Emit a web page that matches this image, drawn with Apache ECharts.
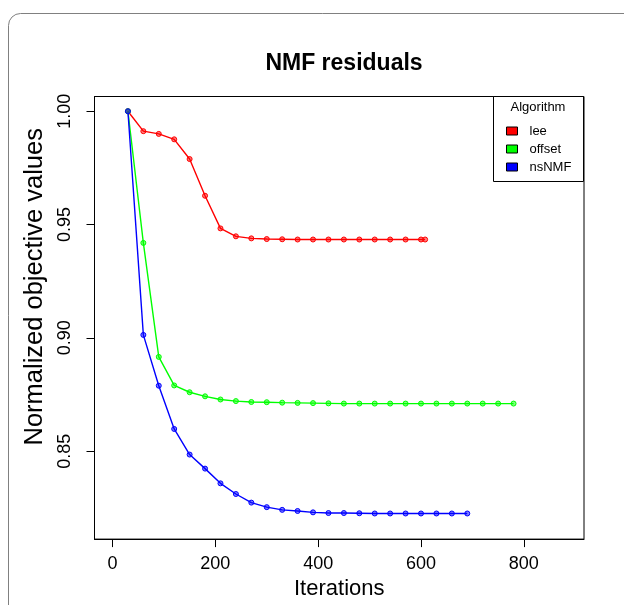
<!DOCTYPE html>
<html><head><meta charset="utf-8">
<script src="https://cdn.jsdelivr.net/npm/echarts@6/dist/echarts.min.js"></script>
<style>html,body{margin:0;padding:0;background:#fff}#c{width:624px;height:605px}</style>
</head><body><div id="c"></div>
<script>
const seriesNames = ['lee', 'offset', 'nsNMF'];
const seriesColors = ['#FF0000', '#00FF00', '#0000FF'];
const leeIter = [30,60,90,120,150,180,210,240,270,300,330,360,390,420,450,480,510,540,570,600,608];
const leeVal = [1.000,0.9912,0.9900,0.9876,0.9789,0.9627,0.9483,0.9448,0.9439,0.9436,0.9435,0.9434,0.9434,0.9434,0.9434,0.9434,0.9434,0.9434,0.9434,0.9434,0.9434];
const offsetIter = [30,60,90,120,150,180,210,240,270,300,330,360,390,420,450,480,510,540,570,600,630,660,690,720,750,780];
const offsetVal = [1.000,0.9419,0.8916,0.8790,0.8760,0.8742,0.8728,0.8721,0.8717,0.8716,0.8714,0.8713,0.8712,0.8711,0.8710,0.8710,0.8710,0.8710,0.8710,0.8710,0.8710,0.8710,0.8710,0.8710,0.8710,0.8710];
const nsIter = [30,60,90,120,150,180,210,240,270,300,330,360,390,420,450,480,510,540,570,600,630,660,690];
const nsVal = [1.000,0.9013,0.8789,0.8598,0.8485,0.8423,0.8358,0.8311,0.8273,0.8253,0.8241,0.8236,0.8230,0.8227,0.8227,0.8226,0.8225,0.8225,0.8225,0.8225,0.8225,0.8225,0.8225];
const xTicks = [0, 200, 400, 600, 800];
const yTicks = [0.85, 0.90, 0.95, 1.00];
const titleText = 'NMF residuals';
const xName = 'Iterations';
const yName = 'Normalized objective values';
const legendTitle = 'Algorithm';

const FONT = 'Liberation Sans, Arial, Helvetica, sans-serif';
const zip = (a, b) => a.map((v, i) => [v, b[i]]);
const allData = [zip(leeIter, leeVal), zip(offsetIter, offsetVal), zip(nsIter, nsVal)];

const chart = echarts.init(document.getElementById('c'), null, {renderer: 'canvas'});
chart.setOption({
  animation: false,
  backgroundColor: '#fff',
  textStyle: {fontFamily: FONT},
  title: {
    text: titleText, left: 339, top: 47, textAlign: 'center',
    textStyle: {fontFamily: FONT, fontSize: 23, fontWeight: 'bold', color: '#000'}
  },
  grid: {left: 94.5, right: 40, top: 96.5, bottom: 62.5, show: true, borderColor: '#000', borderWidth: 1, backgroundColor: 'transparent'},
  xAxis: {
    type: 'value', min: -35, max: 917,
    name: xName, nameLocation: 'middle', nameGap: 37,
    nameTextStyle: {fontFamily: FONT, fontSize: 22, color: '#000'},
    axisLine: {show: true, onZero: false, lineStyle: {color: '#000', width: 1}},
    axisTick: {show: true, length: 8, lineStyle: {color: '#000'}, customValues: xTicks},
    axisLabel: {fontFamily: FONT, fontSize: 18, color: '#000', margin: 16, customValues: xTicks},
    splitLine: {show: false}
  },
  yAxis: {
    type: 'value', min: 0.8112, max: 1.0065,
    name: yName, nameLocation: 'middle', nameGap: 47,
    nameTextStyle: {fontFamily: FONT, fontSize: 25.5, color: '#000', padding: [0, 0, 0, 62]},
    axisLine: {show: true, onZero: false, lineStyle: {color: '#000', width: 1}},
    axisTick: {show: true, length: 8, lineStyle: {color: '#000'}, customValues: yTicks},
    axisLabel: {fontFamily: FONT, fontSize: 18, color: '#000', margin: 20, rotate: 90,
      customValues: yTicks, formatter: v => v.toFixed(2)},
    splitLine: {show: false}
  },
  legend: {
    orient: 'vertical', left: 506, top: 124, padding: 0, z: 30,
    itemWidth: 11, itemHeight: 8, itemGap: 4, icon: 'rect',
    data: seriesNames.map((n, i) => ({
      name: n,
      itemStyle: {color: seriesColors[i], borderColor: '#000', borderWidth: 1, opacity: 1}
    })),
    textStyle: {fontFamily: FONT, fontSize: 13, color: '#000', lineHeight: 14, padding: [0, 0, 0, 7]}
  },
  graphic: [
    {type: 'rect', silent: true, z: 0, shape: {x: 8.5, y: 13.5, width: 700, height: 700, r: 12},
      style: {fill: 'none', stroke: '#808080', lineWidth: 1}},
    {type: 'rect', silent: true, z: 10, shape: {x: 493.5, y: 96.5, width: 90, height: 85},
      style: {fill: '#fff', stroke: '#000', lineWidth: 1}},
    {type: 'text', silent: true, z: 11, x: 538, y: 107,
      style: {text: legendTitle, fontFamily: FONT, fontSize: 13, fill: '#000', align: 'center', verticalAlign: 'middle'}}
  ],
  series: seriesNames.map((n, i) => ({
    name: n, type: 'line', data: allData[i],
    color: seriesColors[i],
    lineStyle: {color: seriesColors[i], width: 1.4},
    symbol: 'circle', symbolSize: 5, showSymbol: true,
    itemStyle: {color: seriesColors[i] + '80', borderColor: seriesColors[i], borderWidth: 1},
    emphasis: {disabled: true}
  }))
});
</script></body></html>
